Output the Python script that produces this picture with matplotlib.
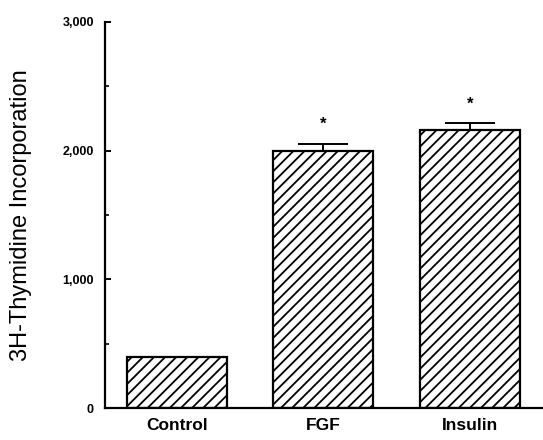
import matplotlib
matplotlib.use("Agg")
import numpy as np
from matplotlib import pyplot as plt

groups = ["Control", "FGF", "Insulin"]
values = [400, 1995, 2160]
errors = [0, 60, 55]
marks = ["", "*", "*"]

plt.rcParams["font.family"] = ["Liberation Sans", "DejaVu Sans"]
plt.rcParams["hatch.linewidth"] = 1.3

fig = plt.figure(figsize=(5.43, 4.4), dpi=100)
ax = fig.add_axes([0.1934, 0.0727, 0.8066, 0.8773])

x = np.arange(len(groups))
ax.bar(x, values, width=0.68, color="white", edgecolor="black", linewidth=1.6, hatch="///")
ax.errorbar(x[1:], values[1:], yerr=[[0, 0], errors[1:]], fmt="none", ecolor="black",
            elinewidth=1.4, capsize=18, capthick=1.4)
for xi, v, e, m in zip(x, values, errors, marks):
    if m:
        ax.text(xi, v + e + 90, m, ha="center", va="bottom", fontsize=12, fontweight="bold")

ax.set_xlim(-0.49, 2.5)
ax.set_ylim(0, 3000)
ax.set_yticks([0, 1000, 2000, 3000])
ax.set_yticklabels(["0", "1,000", "2,000", "3,000"], fontsize=9, fontweight="bold")
ax.set_yticks([500, 1500, 2500], minor=True)
ax.set_xticks(x)
ax.set_xticklabels(groups, fontsize=12.5, fontweight="bold")
ax.tick_params(axis="y", direction="in", length=4, width=1.4, pad=8)
ax.tick_params(axis="y", which="minor", direction="in", length=3, width=1.2)
ax.tick_params(axis="x", length=0, pad=7)
ax.set_ylabel("3H-Thymidine Incorporation", fontsize=17, labelpad=22)

ax.spines["top"].set_visible(False)
ax.spines["right"].set_visible(False)
ax.spines["left"].set_linewidth(1.6)
ax.spines["bottom"].set_linewidth(1.6)

fig.savefig("out.png", dpi=100)
